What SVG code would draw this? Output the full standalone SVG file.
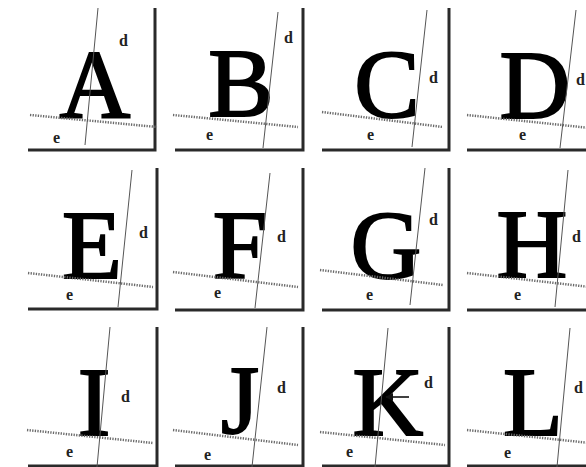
<svg xmlns="http://www.w3.org/2000/svg" width="586" height="467" viewBox="0 0 586 467">
<style>
.frame{stroke:#2a2a2a;stroke-width:3;fill:none}
.dline{stroke:#555;stroke-width:1;fill:none}
.eline{stroke:#6a6a6a;stroke-width:2.5;stroke-dasharray:1.3 1.3;fill:none}
.big{font-family:"Liberation Serif","Times New Roman",serif;font-size:98px;fill:#000;text-anchor:middle;stroke:#000;stroke-width:2}
.lbl{font-family:"Liberation Serif","Times New Roman",serif;font-size:16px;font-weight:bold;fill:#222}
.arr{stroke:#111;stroke-width:1.6;fill:none}
</style>
<defs>
<marker id="ah" viewBox="0 0 10 10" refX="9" refY="5" markerWidth="5" markerHeight="5" orient="auto-start-reverse">
<path d="M0,0 L10,5 L0,10 z" fill="#111"/>
</marker>
</defs>
<rect width="586" height="467" fill="#fff"/>

<g id="panel-A">
<path class="frame" d="M155,8 V150 H28"/>
<text class="big" x="95" y="117">A</text>
<line class="eline" x1="30" y1="115" x2="157" y2="127"/>
<line class="dline" x1="98" y1="8" x2="85" y2="145"/>
<text class="lbl" x="119" y="46">d</text>
<text class="lbl" x="53" y="143">e</text>
</g>

<g id="panel-B">
<path class="frame" d="M303,8 V150 H175"/>
<text class="big" x="241" y="116">B</text>
<line class="eline" x1="173" y1="115" x2="298" y2="127"/>
<line class="dline" x1="278" y1="12" x2="263" y2="148"/>
<text class="lbl" x="284" y="43">d</text>
<text class="lbl" x="206" y="140">e</text>
</g>

<g id="panel-C">
<path class="frame" d="M449,8 V150 H322"/>
<text class="big" x="387" y="117">C</text>
<line class="eline" x1="322" y1="112" x2="443" y2="127"/>
<line class="dline" x1="427" y1="10" x2="412" y2="147"/>
<text class="lbl" x="429" y="83">d</text>
<text class="lbl" x="367" y="140">e</text>
</g>

<g id="panel-D">
<path class="frame" d="M596,8 V150 H467"/>
<text class="big" x="535" y="118">D</text>
<line class="eline" x1="467" y1="115" x2="590" y2="128"/>
<line class="dline" x1="576" y1="10" x2="560" y2="148"/>
<text class="lbl" x="576" y="85">d</text>
<text class="lbl" x="519" y="140">e</text>
</g>

<g id="panel-E">
<path class="frame" d="M157,168 V309 H28"/>
<text class="big" x="92" y="278">E</text>
<line class="eline" x1="28" y1="273" x2="153" y2="287"/>
<line class="dline" x1="132" y1="170" x2="118" y2="307"/>
<text class="lbl" x="139" y="238">d</text>
<text class="lbl" x="66" y="300">e</text>
</g>

<g id="panel-F">
<path class="frame" d="M303,168 V310 H175"/>
<text class="big" x="240" y="278">F</text>
<line class="eline" x1="173" y1="272" x2="298" y2="287"/>
<line class="dline" x1="270" y1="173" x2="255" y2="308"/>
<text class="lbl" x="277" y="242">d</text>
<text class="lbl" x="214" y="298">e</text>
</g>

<g id="panel-G">
<path class="frame" d="M449,168 V310 H322"/>
<text class="big" x="386" y="278">G</text>
<line class="eline" x1="320" y1="270" x2="443" y2="285"/>
<line class="dline" x1="425" y1="168" x2="410" y2="305"/>
<text class="lbl" x="429" y="225">d</text>
<text class="lbl" x="366" y="300">e</text>
</g>

<g id="panel-H">
<path class="frame" d="M596,168 V310 H467"/>
<text class="big" x="532" y="277">H</text>
<line class="eline" x1="467" y1="273" x2="590" y2="287"/>
<line class="dline" x1="568" y1="170" x2="555" y2="307"/>
<text class="lbl" x="572" y="242">d</text>
<text class="lbl" x="514" y="300">e</text>
</g>

<g id="panel-I">
<path class="frame" d="M157,327 V466 H28"/>
<text class="big" x="94" y="435">I</text>
<line class="eline" x1="27" y1="430" x2="153" y2="443"/>
<line class="dline" x1="110" y1="327" x2="97" y2="467"/>
<text class="lbl" x="121" y="402">d</text>
<text class="lbl" x="66" y="457">e</text>
</g>

<g id="panel-J">
<path class="frame" d="M303,327 V466 H175"/>
<text class="big" x="240" y="433">J</text>
<line class="eline" x1="173" y1="430" x2="298" y2="445"/>
<line class="dline" x1="267" y1="327" x2="252" y2="467"/>
<text class="lbl" x="277" y="393">d</text>
<text class="lbl" x="204" y="460">e</text>
</g>

<g id="panel-K">
<path class="frame" d="M449,327 V466 H322"/>
<text class="big" x="388" y="435">K</text>
<line class="eline" x1="320" y1="432" x2="445" y2="445"/>
<line class="dline" x1="388" y1="328" x2="375" y2="467"/>
<text class="lbl" x="424" y="388">d</text>
<text class="lbl" x="346" y="457">e</text>
</g>

<g id="panel-L">
<path class="frame" d="M596,327 V466 H467"/>
<text class="big" x="533" y="435">L</text>
<line class="eline" x1="467" y1="430" x2="590" y2="443"/>
<line class="dline" x1="570" y1="328" x2="557" y2="467"/>
<text class="lbl" x="574" y="393">d</text>
<text class="lbl" x="504" y="458">e</text>
</g>

<g id="connectors">
<line class="arr" x1="409" y1="397" x2="386" y2="397" marker-end="url(#ah)"/>
</g>
</svg>
